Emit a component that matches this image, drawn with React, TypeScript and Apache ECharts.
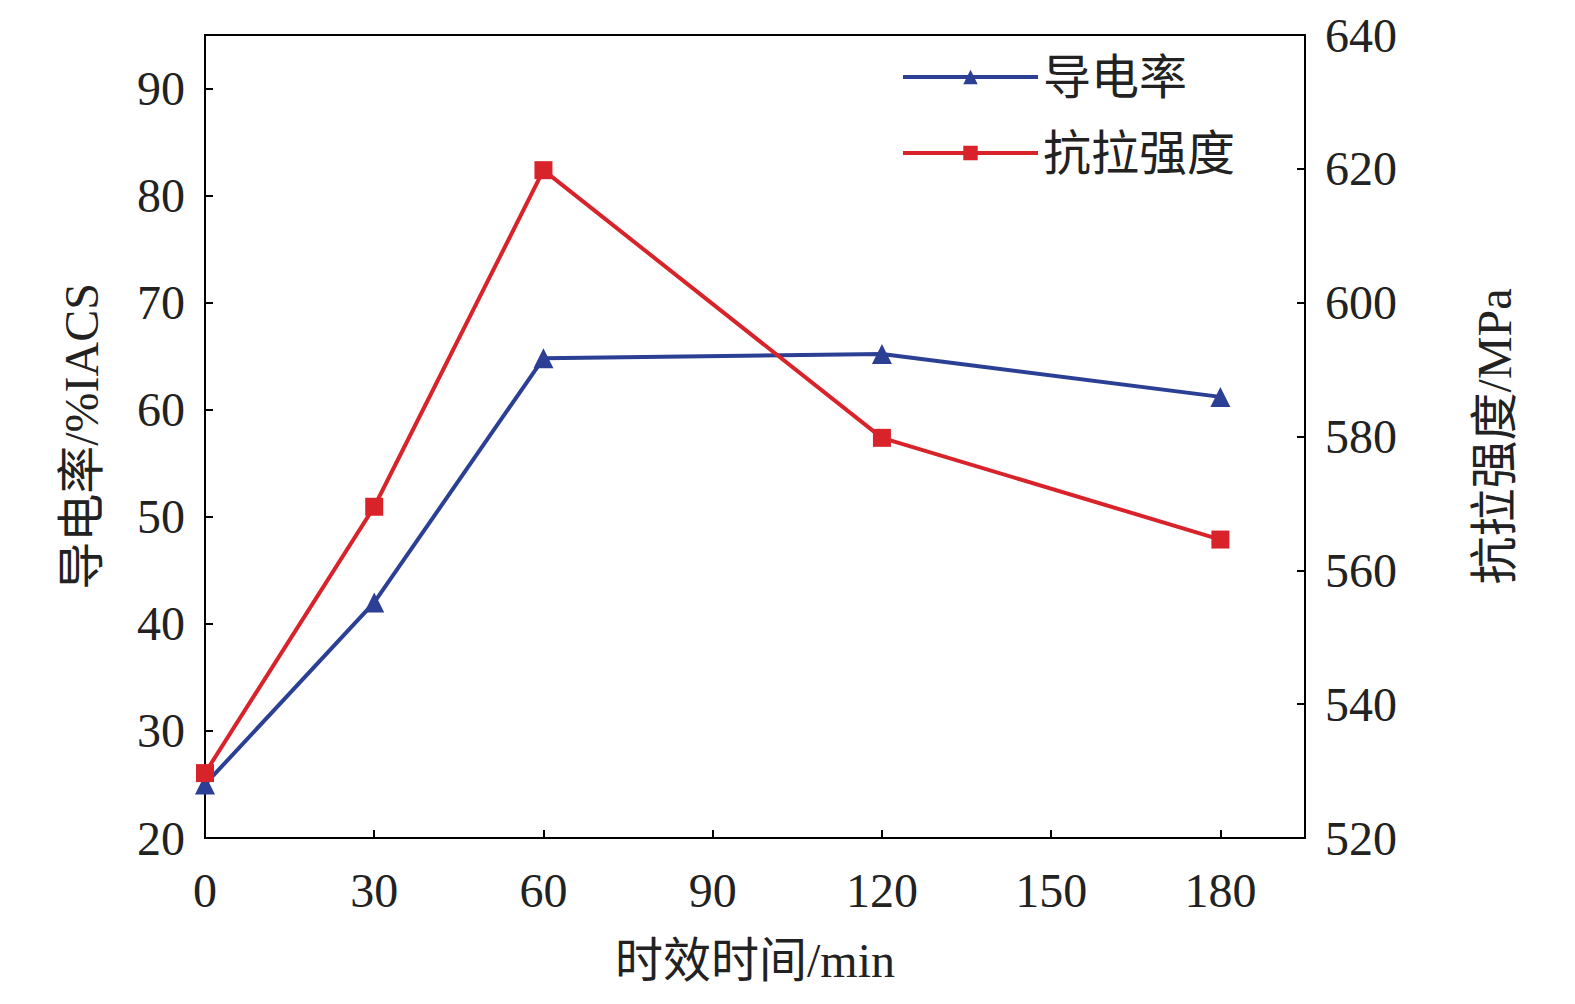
import React, { useEffect, useRef } from "react";
import * as echarts from "echarts";

const times = [0, 30, 60, 120, 180];
const conductivity = [25, 42, 64.8, 65.2, 61.2];
const strength = [529.7, 569.5, 619.8, 579.8, 564.6];

export default function App() {
  const ref = useRef<HTMLDivElement>(null);
  useEffect(() => {
    document.body.style.margin = "0";
    const chart = echarts.init(ref.current!, null, { renderer: "svg" });
    const font = "'Liberation Serif', 'Noto Sans CJK SC', serif";
    const axisCommon = {
      axisLine: { show: true, lineStyle: { color: "#000", width: 2 } },
      axisTick: { show: true, inside: true, length: 8, lineStyle: { color: "#000", width: 2 } },
      splitLine: { show: false },
      axisLabel: { color: "#222", fontSize: 48, fontFamily: font, showMaxLabel: false },
      nameTextStyle: { color: "#222", fontSize: 48, fontFamily: font },
    };
    chart.setOption({
      animation: false,
      backgroundColor: "#fff",
      textStyle: { fontFamily: font },
      grid: { left: 205, right: 270, top: 35, bottom: 166, containLabel: false },
      legend: {
        orient: "vertical",
        right: 335,
        top: 48,
        itemWidth: 135,
        itemHeight: 18,
        itemGap: 28,
        lineStyle: { width: 4 },
        textStyle: { fontSize: 48, color: "#222", fontFamily: font },
        data: ["导电率", "抗拉强度"],
      },
      xAxis: {
        type: "value",
        min: 0,
        max: 195,
        interval: 30,
        name: "时效时间/min",
        nameLocation: "middle",
        nameGap: 98,
        ...axisCommon,
        axisLabel: { ...axisCommon.axisLabel, margin: 28 },
      },
      yAxis: [
        {
          type: "value",
          min: 20,
          max: 95,
          interval: 10,
          name: "导电率/%IACS",
          nameLocation: "middle",
          nameGap: 100,
          ...axisCommon,
          axisLabel: { ...axisCommon.axisLabel, margin: 20 },
        },
        {
          type: "value",
          min: 520,
          max: 640,
          interval: 20,
          name: "抗拉强度/MPa",
          nameLocation: "middle",
          nameGap: 165,
          nameRotate: 90,
          ...axisCommon,
          axisLabel: { ...axisCommon.axisLabel, showMaxLabel: true, margin: 20 },
        },
      ],
      series: [
        {
          name: "导电率",
          type: "line",
          yAxisIndex: 0,
          data: times.map((t, i) => [t, conductivity[i]]),
          symbol: "triangle",
          symbolSize: 20,
          lineStyle: { color: "#2b3f94", width: 4 },
          itemStyle: { color: "#2b3f94" },
        },
        {
          name: "抗拉强度",
          type: "line",
          yAxisIndex: 1,
          data: times.map((t, i) => [t, strength[i]]),
          symbol: "rect",
          symbolSize: 18,
          lineStyle: { color: "#d9232a", width: 4 },
          itemStyle: { color: "#d9232a" },
        },
      ],
      graphic: [
        {
          type: "rect",
          shape: { x: 205, y: 35, width: 1100, height: 803 },
          style: { fill: "none", stroke: "#000", lineWidth: 2 },
          silent: true,
        },
      ],
    });
    return () => chart.dispose();
  }, []);
  return <div ref={ref} style={{ width: 1575, height: 1004 }} />;
}
